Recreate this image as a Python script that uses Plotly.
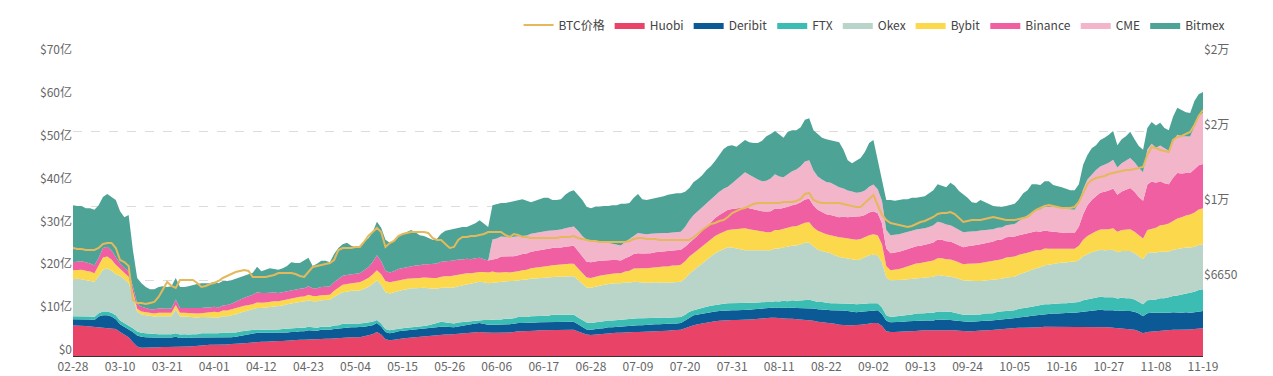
import pandas as pd
import plotly.graph_objects as go

# ---- categories (daily, 2020-02-28 .. 2020-11-19, one day absent) ----
dates = [d.strftime("%m-%d") for d in pd.date_range("2020-02-28", "2020-11-19")]
categories = [d for d in dates if d != "11-01"]

tick_labels = ["02-28", "03-10", "03-21", "04-01", "04-12", "04-23", "05-04", "05-15",
               "05-26", "06-06", "06-17", "06-28", "07-09", "07-20", "07-31", "08-11",
               "08-22", "09-02", "09-13", "09-24", "10-05", "10-16", "10-27", "11-08", "11-19"]

left_tick_vals = [0, 10, 20, 30, 40, 50, 60, 70]
left_tick_text = ["$0", "$10亿", "$20亿", "$30亿", "$40亿", "$50亿", "$60亿", "$70亿"]
right_tick_vals = [6650, 10000, 15041, 22623]
right_tick_text = ["$6650", "$1万", "$2万", "$2万"]

# ---- series values (亿 USD) ----
huobi = [
7.1,7.1,7.0,7.0,6.9,6.8,6.8,6.7,6.6,6.5,6.3,
5.6,5.0,4.4,3.2,2.2,1.9,2.0,2.0,2.0,2.1,2.1,
2.1,2.1,2.2,2.1,2.2,2.2,2.3,2.4,2.5,2.5,2.6,
2.6,2.6,2.7,2.7,2.8,2.8,2.9,3.0,3.1,3.2,3.3,
3.3,3.3,3.4,3.4,3.5,3.5,3.6,3.7,3.7,3.8,3.8,
3.9,3.9,3.9,4.0,4.0,4.0,4.1,4.2,4.3,4.3,4.4,
4.4,4.4,4.6,4.8,5.1,5.6,5.0,3.9,3.7,3.8,4.0,
4.1,4.2,4.3,4.3,4.4,4.5,4.6,4.7,4.8,4.9,5.0,
5.0,5.1,5.2,5.3,5.4,5.4,5.5,5.6,5.5,5.4,5.4,
5.4,5.4,5.5,5.5,5.6,5.8,5.8,5.8,5.9,5.9,6.0,
6.0,6.0,6.1,6.1,6.1,6.1,6.1,6.1,5.7,5.3,5.0,
4.9,5.0,5.1,5.2,5.3,5.3,5.4,5.4,5.5,5.5,5.6,
5.6,5.6,5.7,5.7,5.8,5.8,5.9,5.9,6.0,6.0,6.1,
6.5,6.9,7.2,7.4,7.6,7.8,8.0,8.1,8.2,8.3,8.4,
8.4,8.4,8.4,8.4,8.5,8.6,8.7,8.8,8.9,8.9,8.9,
8.8,8.8,8.7,8.7,8.6,8.5,8.4,8.4,8.2,8.0,7.9,
7.8,7.7,7.5,7.3,7.2,7.2,7.2,7.2,7.3,7.4,7.6,
7.7,7.7,7.0,5.8,5.6,5.6,5.7,5.7,5.8,5.8,5.9,
5.9,6.0,6.0,6.0,6.1,6.1,6.1,6.1,6.0,5.9,5.8,
5.8,5.8,5.9,5.9,6.0,6.0,6.1,6.2,6.3,6.4,6.5,
6.5,6.6,6.6,6.6,6.7,6.7,6.7,6.8,6.8,6.8,6.8,
6.8,6.8,6.8,6.8,6.8,6.8,6.8,6.8,6.8,6.8,6.7,
6.7,6.6,6.5,6.5,6.4,6.3,6.1,5.8,5.3,5.6,5.7,
5.8,5.9,5.9,6.0,6.1,6.1,6.1,6.2,6.2,6.3,6.4,
6.5]

deribit = [
1.5,1.5,1.5,1.5,1.6,1.6,2.4,2.8,2.9,2.7,2.3,
1.8,1.8,2.0,2.4,2.6,2.6,2.4,2.3,2.3,2.2,2.2,
2.2,2.2,2.3,2.1,2.1,2.0,2.0,1.9,1.9,1.9,1.8,
1.8,1.7,1.7,1.6,1.6,1.7,1.8,1.9,2.0,2.0,2.1,
2.1,2.1,2.0,2.0,1.9,1.9,1.9,1.9,1.9,2.0,2.0,
2.1,2.0,2.0,2.1,2.1,2.1,2.2,2.2,2.3,2.3,2.3,
2.3,2.3,2.2,2.2,2.1,2.1,1.9,1.7,1.6,1.7,1.8,
1.8,1.8,1.9,1.9,1.9,1.9,1.9,1.9,1.9,1.9,1.8,
1.7,1.6,1.7,1.8,1.9,2.0,2.1,2.1,2.0,1.9,1.9,
1.9,1.9,1.9,1.9,1.9,1.9,1.9,1.9,1.9,1.9,1.9,
1.9,1.9,1.9,1.9,1.9,1.9,1.9,1.9,1.7,1.4,1.2,
1.2,1.3,1.3,1.3,1.4,1.4,1.4,1.4,1.5,1.5,1.6,
1.6,1.6,1.6,1.6,1.6,1.6,1.6,1.6,1.6,1.6,1.6,
1.8,2.1,2.3,2.3,2.3,2.3,2.3,2.3,2.3,2.3,2.3,
2.3,2.3,2.3,2.3,2.3,2.3,2.3,2.3,2.3,2.3,2.4,
2.4,2.5,2.5,2.6,2.6,2.7,2.8,2.8,2.9,2.9,3.0,
3.0,3.0,3.2,3.4,3.4,3.3,3.2,3.0,3.0,3.0,3.0,
3.0,3.0,2.8,2.4,2.3,2.3,2.3,2.3,2.3,2.3,2.3,
2.3,2.3,2.3,2.3,2.4,2.4,2.3,2.3,2.3,2.3,2.2,
2.2,2.2,2.2,2.2,2.2,2.2,2.2,2.3,2.3,2.3,2.3,
2.3,2.4,2.5,2.6,2.7,2.8,2.9,3.0,3.0,3.1,3.1,
3.2,3.2,3.3,3.3,3.4,3.6,3.7,3.8,3.9,4.0,4.0,
4.0,4.1,4.0,4.1,4.1,4.2,4.2,4.1,4.0,4.4,4.4,
4.3,4.2,4.1,4.1,4.1,4.0,4.0,4.0,3.9,3.9,4.0,
4.0]

ftx = [
0.7,0.7,0.7,0.7,0.7,0.7,0.8,0.9,0.9,0.9,0.9,
0.9,0.9,0.9,0.9,0.9,0.9,0.9,0.9,0.8,0.8,0.8,
0.8,0.8,0.8,0.8,0.8,0.8,0.8,0.8,0.9,0.9,0.9,
1.0,1.0,1.1,1.1,1.1,1.0,1.0,0.9,0.8,0.8,0.8,
0.7,0.7,0.8,0.8,0.8,0.9,0.9,0.9,0.9,0.8,0.8,
0.8,0.8,0.7,0.7,0.7,0.7,0.8,0.8,0.9,0.9,0.9,
0.9,0.9,0.9,0.8,0.8,0.7,0.7,0.7,0.7,0.7,0.6,
0.6,0.6,0.5,0.5,0.5,0.6,0.7,0.8,1.0,1.2,1.1,
1.0,0.9,0.9,0.8,0.8,0.7,0.7,0.7,0.9,1.1,1.2,
1.2,1.2,1.3,1.3,1.3,1.4,1.4,1.4,1.5,1.5,1.5,
1.5,1.5,1.6,1.6,1.6,1.6,1.6,1.6,1.6,1.6,1.6,
1.6,1.6,1.6,1.6,1.6,1.6,1.6,1.6,1.6,1.6,1.6,
1.6,1.6,1.5,1.5,1.5,1.5,1.5,1.4,1.4,1.4,1.4,
1.3,1.3,1.2,1.3,1.3,1.4,1.4,1.5,1.5,1.6,1.6,
1.6,1.6,1.6,1.6,1.6,1.5,1.5,1.5,1.4,1.4,1.5,
1.5,1.6,1.6,1.7,1.7,1.8,1.9,1.9,1.8,1.7,1.7,
1.6,1.6,1.6,1.6,1.7,1.7,1.8,1.9,1.8,1.8,1.7,
1.6,1.6,1.5,1.3,1.2,1.3,1.3,1.4,1.5,1.6,1.7,
1.7,1.7,1.8,1.8,1.9,1.9,1.9,1.9,1.8,1.7,1.6,
1.6,1.6,1.6,1.6,1.7,1.7,1.7,1.8,1.8,1.9,1.9,
1.9,2.0,2.0,2.1,2.1,2.2,2.2,2.3,2.3,2.3,2.3,
2.3,2.3,2.3,2.3,2.4,2.6,2.7,2.8,2.9,3.0,3.0,
3.0,3.0,2.9,3.0,3.0,3.0,2.9,2.8,2.8,3.0,3.0,
3.1,3.4,3.5,3.6,3.8,4.0,4.2,4.4,4.6,4.8,5.0,
5.1]

okex = [
8.6,8.7,8.7,8.5,8.4,8.2,8.6,9.8,10.0,9.8,9.6,
10.4,10.2,9.8,7.5,4.6,4.3,4.2,4.1,4.1,4.2,4.2,
4.1,4.2,5.6,4.2,4.1,4.1,4.0,3.9,3.8,3.8,3.7,
3.7,3.7,3.8,3.9,4.0,4.2,4.4,4.6,4.8,4.9,5.0,
5.1,5.2,5.3,5.4,5.4,5.5,5.7,5.8,5.9,6.0,6.1,
6.2,6.1,6.2,6.2,6.3,6.3,6.7,7.1,7.4,7.5,7.6,
7.6,7.7,8.0,8.3,8.8,9.3,9.0,8.6,8.6,8.7,8.8,
8.9,9.0,9.1,9.1,9.1,8.9,8.6,8.3,8.0,7.9,8.0,
8.2,8.4,8.5,8.6,8.7,8.8,8.9,8.9,8.8,8.6,8.6,
8.7,8.9,8.8,8.8,8.7,8.6,8.7,8.7,8.8,8.8,8.8,
8.8,8.9,8.9,8.9,8.9,9.0,9.0,9.0,8.8,8.5,8.2,
8.2,8.3,8.4,8.5,8.5,8.6,8.6,8.6,8.6,8.5,8.5,
8.4,8.4,8.3,8.3,8.3,8.2,8.2,8.2,8.2,8.2,8.2,
8.5,8.9,9.3,9.8,10.4,11.0,11.6,12.1,12.5,12.8,13.1,
13.0,12.8,12.6,12.4,12.3,12.3,12.2,12.2,12.1,12.1,12.3,
12.4,12.5,12.7,12.8,12.9,13.1,13.3,13.3,12.6,12.2,11.9,
11.8,11.7,11.2,10.8,10.6,10.5,10.4,10.3,10.5,10.8,11.2,
11.3,11.2,10.6,8.9,8.6,8.5,8.4,8.4,8.3,8.3,8.3,
8.3,8.3,8.3,8.4,8.5,8.4,8.3,8.2,8.2,8.1,8.0,
8.0,7.9,7.8,7.8,7.7,7.7,7.7,7.6,7.6,7.7,7.7,
7.8,8.0,8.2,8.4,8.6,8.8,8.9,9.1,9.2,9.3,9.4,
9.5,9.5,9.6,9.6,9.8,10.3,10.6,10.8,10.9,11.0,11.0,
11.0,11.1,10.8,10.9,11.0,11.0,10.8,10.6,10.5,11.0,11.1,
10.9,10.9,10.8,10.7,10.8,10.9,10.8,10.7,10.6,10.5,10.5,
10.5]

bybit = [
2.1,2.1,2.2,2.2,2.1,2.0,2.4,2.8,2.8,2.6,2.2,
1.6,1.5,1.4,1.0,0.7,0.7,0.7,0.7,0.7,0.8,0.8,
0.8,0.8,1.0,0.9,0.9,0.9,0.9,0.9,0.9,1.0,1.1,
1.2,1.2,1.3,1.3,1.4,1.4,1.3,1.3,1.2,1.2,1.3,
1.2,1.2,1.2,1.2,1.2,1.2,1.2,1.2,1.2,1.2,1.2,
1.3,1.2,1.2,1.2,1.2,1.2,1.4,1.6,1.7,1.8,1.8,
1.9,1.9,2.0,2.1,2.2,2.3,2.5,2.6,2.6,2.5,2.5,
2.4,2.4,2.3,2.3,2.3,2.4,2.4,2.5,2.5,2.6,2.7,
2.7,2.8,2.7,2.6,2.5,2.4,2.3,2.3,2.4,2.5,2.6,
2.3,2.1,2.1,2.0,2.1,2.1,2.2,2.3,2.4,2.5,2.6,
2.7,2.7,2.7,2.8,2.8,2.8,2.9,2.9,2.7,2.5,2.3,
2.3,2.3,2.3,2.3,2.3,2.3,2.3,2.3,2.5,2.8,3.1,
3.3,3.3,3.4,3.5,3.6,3.7,3.7,3.8,3.9,3.9,4.0,
4.0,4.0,4.0,4.0,4.0,4.0,4.0,4.0,4.0,4.0,4.0,
4.2,4.5,4.8,5.1,4.9,4.7,4.5,4.3,4.2,4.2,4.3,
4.3,4.3,4.4,4.4,4.5,4.6,4.7,4.8,4.5,4.4,4.3,
4.2,4.2,4.4,4.6,4.7,4.7,4.7,4.7,4.7,4.7,4.7,
4.8,4.7,4.2,2.6,2.3,2.4,2.6,2.8,3.0,3.2,3.4,
3.5,3.6,3.7,3.8,3.9,4.0,4.0,4.0,3.9,3.8,3.8,
3.9,4.0,4.1,4.2,4.3,4.4,4.5,4.6,4.6,4.7,4.7,
4.7,4.6,4.5,4.4,4.3,4.2,4.0,3.9,3.7,3.5,3.3,
3.2,3.1,3.0,3.0,3.3,3.8,4.2,4.4,4.6,4.7,4.8,
4.9,5.0,4.8,4.9,5.0,5.1,5.0,4.8,4.8,5.4,5.5,
5.8,6.1,6.3,6.5,6.8,7.1,7.3,7.5,7.7,8.0,8.3,
8.4]

binance = [
1.9,1.9,2.0,2.0,1.9,1.8,1.9,2.2,2.3,2.1,1.8,
1.3,1.2,1.2,1.2,1.2,1.1,1.0,0.9,1.0,1.0,1.0,
1.0,1.0,1.3,1.1,1.1,1.2,1.2,1.2,1.2,1.2,1.2,
1.2,1.1,1.2,1.3,1.3,1.5,1.7,1.9,2.1,2.2,2.4,
2.3,2.2,2.1,2.0,1.9,1.9,1.9,1.9,1.9,1.9,1.9,
2.0,1.8,1.8,1.9,1.9,1.9,2.0,2.1,2.1,2.1,2.1,
2.1,2.1,2.3,2.5,2.9,3.5,3.0,2.4,2.3,2.4,2.6,
2.7,2.8,2.9,3.0,3.0,3.1,3.2,3.3,3.4,3.5,3.5,
3.5,3.5,3.5,3.4,3.4,3.3,3.3,3.3,3.0,2.8,2.8,
3.2,3.7,3.6,3.7,3.7,3.7,3.8,3.8,3.8,3.9,3.9,
3.9,4.0,4.0,4.0,4.0,4.1,4.1,4.2,4.0,3.8,3.7,
3.7,3.6,3.5,3.4,3.3,3.2,3.1,3.0,3.1,3.3,3.4,
3.5,3.4,3.4,3.4,3.4,3.5,3.5,3.5,3.5,3.5,3.5,
3.4,3.3,3.3,3.4,3.6,3.8,4.0,4.2,4.4,4.6,4.7,
4.8,4.8,4.9,4.9,4.9,4.8,4.8,4.7,4.8,4.9,5.0,
4.9,4.8,4.9,5.0,5.1,5.2,5.4,5.5,5.1,4.9,4.8,
4.7,4.7,4.7,4.7,4.9,5.0,5.2,5.4,5.3,5.2,5.3,
5.4,5.1,4.9,4.1,4.0,4.0,4.0,4.0,4.0,4.0,4.0,
4.0,4.0,4.1,4.2,4.4,4.3,4.2,4.2,4.1,4.0,4.0,
4.1,4.2,4.3,4.4,4.4,4.5,4.5,4.6,4.6,4.7,4.7,
4.7,4.6,4.6,4.5,4.5,4.4,4.3,4.2,4.1,4.0,3.9,
3.8,3.8,3.7,3.7,4.5,6.0,7.2,7.8,8.2,8.6,8.8,
9.0,9.3,8.6,9.0,9.3,9.6,9.3,9.0,8.8,10.6,11.0,
10.5,10.3,9.7,9.2,10.0,10.6,10.2,9.9,9.7,10.1,10.3,
10.3]

cme = [
0,0,0,0,0,0,0,0,0,0,0,
0,0,0,0,0,0,0,0,0,0,0,
0,0,0,0,0,0,0,0,0,0,0,
0,0,0,0,0,0,0,0,0,0,0,
0,0,0,0,0,0,0,0,0,0,0,
0,0,0,0,0,0,0,0,0,0,0,
0,0,0,0,0,0,0,0,0,0,0,
0,0,0,0,0,0,0,0,0,0,0,
0,0,0,0,0,0,0,0,0,0,4.7,
4.7,4.7,4.6,4.5,4.5,4.4,4.3,4.2,4.2,4.2,4.2,
4.2,4.2,4.1,4.1,4.2,4.3,4.4,4.5,4.7,4.9,5.1,
5.1,4.9,4.6,4.3,4.0,3.8,3.6,3.5,3.8,4.1,4.4,
4.7,4.6,4.5,4.5,4.4,4.4,4.3,4.3,4.2,4.2,4.2,
4.6,5.2,5.6,5.6,5.5,5.5,5.4,5.4,5.4,5.4,5.4,
6.0,6.8,7.5,8.2,7.8,7.5,7.2,7.0,7.2,7.6,8.0,
7.6,7.2,7.6,7.9,8.1,8.4,8.9,9.0,8.2,7.8,7.6,
7.5,7.5,7.2,7.0,6.6,6.2,5.9,5.6,5.6,5.7,6.0,
6.2,5.6,5.2,4.3,4.2,4.2,4.1,4.1,4.0,4.0,3.9,
3.9,3.9,3.9,4.0,4.1,4.0,3.9,3.8,3.7,3.6,3.5,
3.4,3.3,3.2,3.2,3.1,3.0,2.9,2.8,2.8,2.8,2.8,
2.9,3.3,3.8,4.2,4.6,5.0,5.2,5.5,5.7,5.9,5.9,
5.8,5.6,5.5,5.4,5.5,5.8,6.0,6.0,6.1,6.1,6.3,
6.5,6.7,6.4,6.6,6.8,7.0,6.9,6.8,6.7,8.2,8.8,
8.2,8.3,8.2,7.8,8.4,8.9,8.7,8.6,8.5,10.0,11.5,
11.9]

bitmex = [
13.3,13.0,12.9,12.6,12.9,13.0,12.3,11.9,12.3,12.5,13.3,
12.2,11.8,13.2,8.5,6.0,5.5,4.9,4.7,4.7,5.0,5.2,
5.1,5.2,5.0,4.9,4.9,5.1,5.4,5.7,5.8,5.7,5.7,
5.8,5.7,5.7,5.6,5.5,5.4,5.3,5.1,5.1,5.1,5.9,
5.1,5.4,5.7,5.5,5.4,5.6,5.8,6.5,6.2,6.0,6.6,
6.6,5.2,5.7,6.1,6.0,5.7,6.6,7.2,7.4,7.5,6.6,
6.2,6.4,6.6,6.8,7.0,7.8,7.8,7.2,6.9,7.0,7.7,
8.0,8.1,8.4,7.8,7.0,6.6,6.1,5.6,5.7,6.5,7.1,
7.3,7.3,7.4,7.6,7.4,8.0,8.2,8.8,8.2,7.8,8.0,
8.1,7.8,7.9,8.2,8.4,8.5,8.5,8.1,7.4,7.5,7.7,
7.9,7.7,7.1,7.0,7.1,7.8,8.3,8.5,8.4,8.4,7.7,
7.5,7.8,8.0,8.4,8.6,9.0,9.2,9.7,8.9,8.4,8.7,
9.1,8.1,8.0,8.1,8.3,8.4,8.6,8.9,9.0,9.2,9.0,
8.2,7.5,7.7,7.5,7.5,7.6,7.6,7.9,8.6,9.3,9.5,
8.9,7.6,7.6,7.5,7.6,8.0,8.5,9.4,10.4,10.4,10.1,
9.7,9.2,9.9,9.6,9.2,9.1,9.7,9.8,9.4,9.9,9.7,
10.0,10.0,10.4,10.5,9.0,7.1,6.6,7.6,8.0,9.0,10.2,
10.4,6.8,4.9,7.0,8.2,7.9,8.0,7.9,7.7,7.7,7.4,
7.5,7.5,7.9,8.2,8.8,8.6,8.7,9.9,9.7,9.1,8.9,
7.9,6.9,6.6,7.1,6.5,6.0,5.4,4.9,4.8,4.5,4.6,
4.7,5.1,5.8,5.9,6.6,6.0,5.7,6.0,6.0,5.0,5.0,
4.8,4.7,4.5,4.6,4.4,5.7,5.7,6.1,5.8,6.2,6.3,
6.5,6.7,5.2,5.6,5.7,6.1,5.4,5.1,5.2,5.0,5.1,
5.2,5.3,4.7,4.8,5.8,6.3,6.1,5.6,5.5,5.9,5.1,
4.9]

btc_price = [
7957,7913,7913,7870,7870,7870,7957,8132,8177,8177,7957,
7454,7373,7214,5995,5898,5898,5866,5898,5931,6094,6331,
6613,6470,6400,6685,6685,6685,6685,6577,6435,6470,6541,
6577,6649,6758,6832,6906,6982,7020,7059,7020,6795,6795,
6795,6795,6832,6869,6944,6944,6944,6944,6906,6832,6795,
6982,7175,7214,7254,7293,7333,7454,7870,7957,7957,7957,
8000,8000,8221,8493,8680,8872,8680,8000,8177,8266,8493,
8586,8633,8680,8680,8680,8680,8633,8401,8310,8310,8132,
7957,8000,8310,8447,8447,8493,8493,8539,8586,8680,8680,
8680,8680,8539,8447,8586,8539,8447,8447,8401,8401,8401,
8401,8401,8401,8401,8447,8447,8447,8493,8401,8356,8310,
8266,8266,8221,8221,8221,8221,8221,8221,8221,8266,8356,
8401,8401,8356,8356,8356,8310,8310,8310,8310,8310,8310,
8310,8310,8447,8586,8775,8920,9067,9116,9216,9266,9419,
9626,9731,9838,9892,10000,10109,10165,10165,10165,10165,10165,
10165,10220,10220,10220,10276,10388,10675,10733,10332,10220,10165,
10165,10165,10165,10165,10109,10055,10000,9946,9946,10165,10445,
10617,10055,9522,9266,9116,9067,9018,8969,8920,8969,9067,
9166,9216,9317,9419,9574,9626,9626,9679,9574,9368,9166,
9216,9266,9266,9266,9317,9368,9419,9368,9317,9266,9266,
9266,9317,9368,9419,9626,9785,9892,10000,10055,10000,9946,
9892,9892,9892,9946,10220,10733,11272,11520,11646,11710,11774,
11903,11968,12033,12099,12164,12164,12231,12298,12365,13199,13787,
13712,13563,13490,13417,14322,14558,14637,14798,14960,15541,16320,
16862]

n = len(categories)
for arr in (huobi, deribit, ftx, okex, bybit, binance, cme, bitmex, btc_price):
    assert len(arr) == n, (len(arr), n)

series = [
    ("Huobi", huobi, "#EA4368"),
    ("Deribit", deribit, "#0C5A95"),
    ("FTX", ftx, "#3BBDB3"),
    ("Okex", okex, "#B9D5CA"),
    ("Bybit", bybit, "#FCD94C"),
    ("Binance", binance, "#EF5FA2"),
    ("CME", cme, "#F2B5C9"),
    ("Bitmex", bitmex, "#4DA396"),
]
GOLD = "#E3B95C"

fig = go.Figure()
fig.add_trace(go.Scatter(x=categories, y=btc_price, name="BTC价格", yaxis="y2",
                         mode="lines", line=dict(color=GOLD, width=2)))
for name, vals, color in series:
    fig.add_trace(go.Scatter(x=categories, y=vals, name=name, stackgroup="one",
                             mode="lines", line=dict(width=0, color=color),
                             fillcolor=color))

FONT = "Microsoft YaHei, Noto Sans CJK SC, sans-serif"
fig.update_layout(
    width=1273, height=376,
    margin=dict(l=73, r=70, t=56, b=20, autoexpand=False),
    paper_bgcolor="white", plot_bgcolor="white",
    font=dict(family=FONT, size=12, color="#666"),
    showlegend=True,
    legend=dict(orientation="h", x=1.0235, xanchor="right", y=1.103, yanchor="middle",
                traceorder="normal", itemwidth=30, font=dict(size=12, color="#444"),
                bgcolor="rgba(0,0,0,0)"),
    xaxis=dict(type="category", range=[0, n - 1], tickmode="array",
               tickvals=tick_labels, ticktext=tick_labels, showgrid=False,
               showline=True, linecolor="#333", linewidth=1, ticks="",
               tickfont=dict(size=12, color="#666"), zeroline=False),
    yaxis=dict(range=[0, 70], tickmode="array", tickvals=left_tick_vals,
               ticktext=left_tick_text, showgrid=False, zeroline=False,
               showline=False, ticks="", ticklabelshift=-6,
               tickfont=dict(size=12, color="#666")),
    yaxis2=dict(type="log", overlaying="y", side="right",
                range=[3.6454, 4.3546], tickmode="array",
                tickvals=right_tick_vals, ticktext=right_tick_text,
                showgrid=True, gridcolor="#DCDCDC", griddash="dash", gridwidth=1,
                zeroline=False, showline=False, ticks="", ticklabelshift=-6,
                tickfont=dict(size=12, color="#666")),
    hovermode=False,
)

fig.write_html("out.html", config={"displayModeBar": False},
               post_script="document.body.style.margin='0';document.body.style.padding='0';")
